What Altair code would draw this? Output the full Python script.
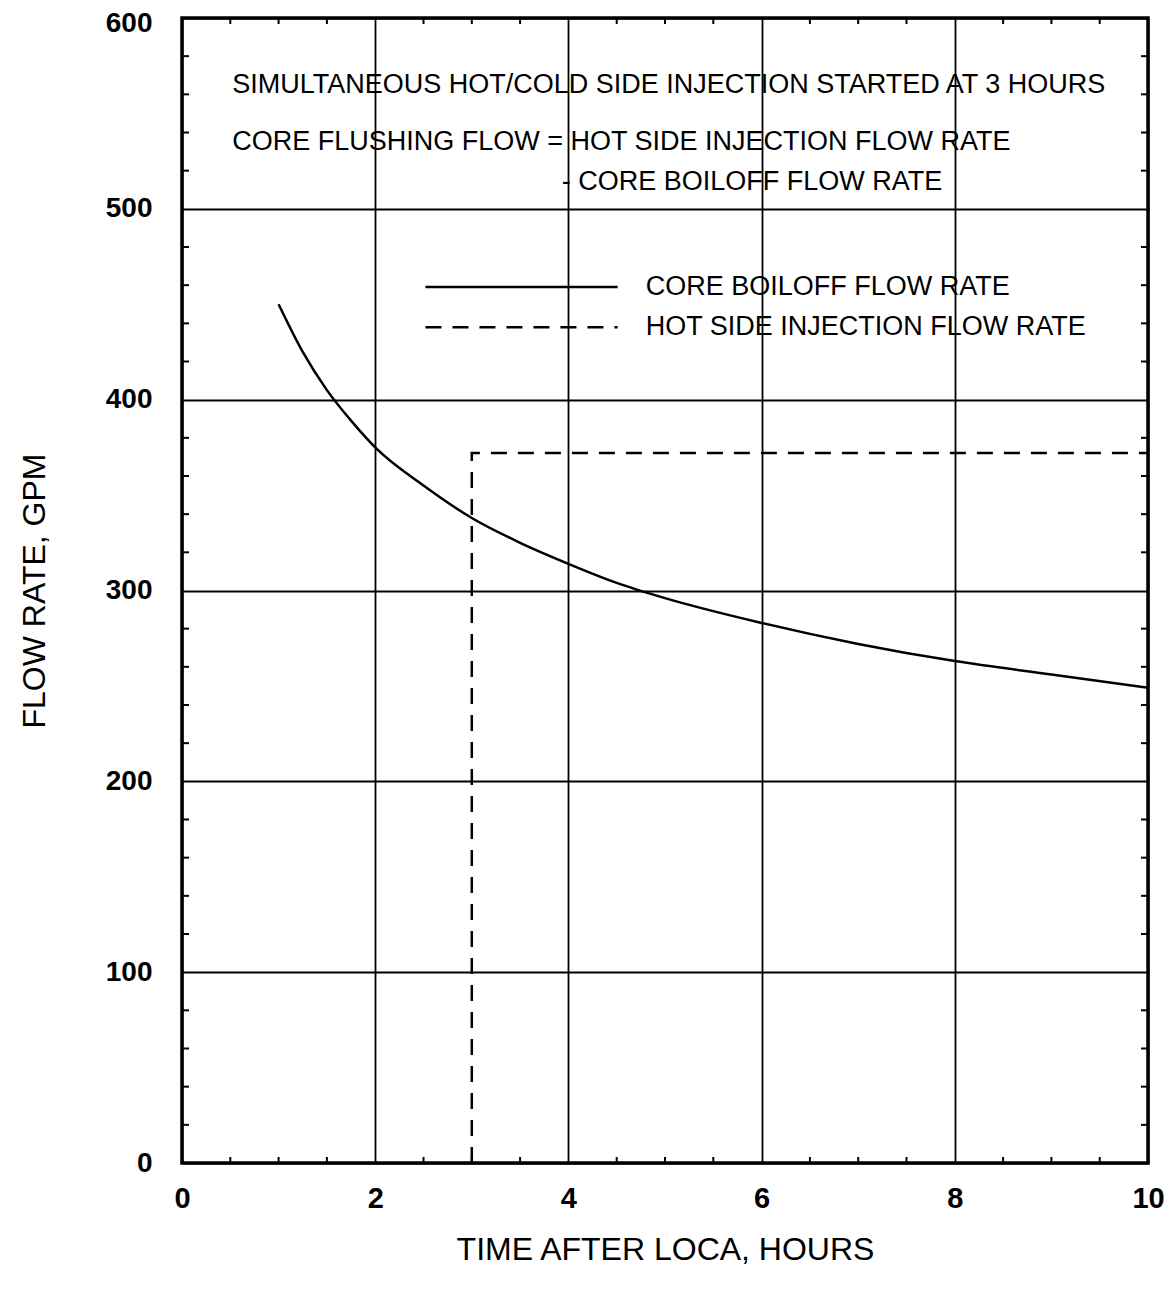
import altair as alt
import pandas as pd

# ---- data ----
time_h = [1.0, 1.25, 1.5, 1.75, 2.0, 2.5, 3.0, 3.5, 4.0, 4.5, 5.0, 6.0,
          7.0, 8.0, 9.0, 10.0]
boiloff_gpm = [450, 425, 405, 389, 375, 355, 338, 325, 314, 304, 296, 283,
               272, 263, 256, 249]

inj_time_h = [3.0, 3.0, 10.0]
inj_gpm = [0, 372, 372]

x_ticks = [0, 2, 4, 6, 8, 10]
y_ticks = [0, 100, 200, 300, 400, 500, 600]
x_minor = [0.5, 1, 1.5, 2.5, 3, 3.5, 4.5, 5, 5.5, 6.5, 7, 7.5, 8.5, 9, 9.5]
y_minor = [20, 40, 60, 80, 120, 140, 160, 180, 220, 240, 260, 280, 320, 340,
           360, 380, 420, 440, 460, 480, 520, 540, 560, 580]

note_text = ["SIMULTANEOUS HOT/COLD SIDE INJECTION STARTED AT 3 HOURS",
             "CORE FLUSHING FLOW = HOT SIDE INJECTION FLOW RATE",
             "- CORE BOILOFF FLOW RATE"]
note_x = [0.52, 0.52, 3.93]
note_y = [565, 535, 514]

legend_labels = ["CORE BOILOFF FLOW RATE", "HOT SIDE INJECTION FLOW RATE"]
legend_line_x = [2.52, 4.51]
legend_y = [459, 438]
legend_text_x = [4.80, 4.80]

# ---- tables ----
FONT = "Liberation Sans"
W, H = 966, 1145

curve_df = pd.DataFrame({"t": time_h, "q": boiloff_gpm})
inj_df = pd.DataFrame({"t": inj_time_h, "q": inj_gpm, "o": list(range(len(inj_gpm)))})
xminor_df = pd.DataFrame({"t": x_minor})
yminor_df = pd.DataFrame({"q": y_minor})
note_df = pd.DataFrame({"t": note_x, "q": note_y, "label": note_text})
leg_solid_df = pd.DataFrame({"t": [legend_line_x[0]], "t2": [legend_line_x[1]], "q": [legend_y[0]]})
leg_dash_df = pd.DataFrame({"t": [legend_line_x[0]], "t2": [legend_line_x[1]], "q": [legend_y[1]]})
leg_text_df = pd.DataFrame({"t": legend_text_x, "q": legend_y, "label": legend_labels})

xscale = alt.Scale(domain=[0, 10], nice=False, zero=False)
yscale = alt.Scale(domain=[0, 600], nice=False)

xaxis = alt.Axis(values=x_ticks, title="TIME AFTER LOCA, HOURS", grid=True,
                 gridColor="black", gridWidth=1.8, gridOpacity=1, ticks=False,
                 domain=False, labelFont=FONT, labelFontSize=29,
                 labelFontWeight="bold", labelColor="black", labelPadding=21,
                 labelFlush=False, format="d", titleFont=FONT, titleFontSize=32,
                 titleFontWeight="normal", titleColor="black", titlePadding=21)
yaxis = alt.Axis(values=y_ticks, title="FLOW RATE, GPM", grid=True,
                 gridColor="black", gridWidth=1.8, gridOpacity=1, ticks=False,
                 domain=False, labelFont=FONT, labelFontSize=28,
                 labelFontWeight="bold", labelColor="black", labelPadding=30,
                 labelOffset={"condition": {"test": "datum.value == 600", "value": 5},
                              "value": 0},
                 labelFlush=False, format="d", titleFont=FONT, titleFontSize=32,
                 titleFontWeight="normal", titleColor="black", titlePadding=54)


def X(field="t"):
    return alt.X(f"{field}:Q", scale=xscale, axis=xaxis)


def Y(field="q"):
    return alt.Y(f"{field}:Q", scale=yscale, axis=yaxis)


curve = alt.Chart(curve_df).mark_line(color="black", strokeWidth=2.5,
                                      interpolate="monotone").encode(x=X(), y=Y())

inj = alt.Chart(inj_df).mark_line(color="black", strokeWidth=2.5,
                                  strokeDash=[16, 11]).encode(
    x=X(), y=Y(), order="o:Q")

tick_bottom = alt.Chart(xminor_df).mark_rule(color="black", strokeWidth=2).encode(
    x=X(), y=alt.value(H), y2=alt.value(H - 6))
tick_top = alt.Chart(xminor_df).mark_rule(color="black", strokeWidth=2).encode(
    x=X(), y=alt.value(0), y2=alt.value(6))
tick_left = alt.Chart(yminor_df).mark_rule(color="black", strokeWidth=2).encode(
    y=Y(), x=alt.value(0), x2=alt.value(7))
tick_right = alt.Chart(yminor_df).mark_rule(color="black", strokeWidth=2).encode(
    y=Y(), x=alt.value(W), x2=alt.value(W - 7))

notes = alt.Chart(note_df).mark_text(align="left", baseline="middle", font=FONT,
                                     fontSize=27, color="black").encode(
    x=X(), y=Y(), text="label:N")

leg_solid = alt.Chart(leg_solid_df).mark_rule(color="black", strokeWidth=2.5).encode(
    x=X(), x2="t2:Q", y=Y())
leg_dash = alt.Chart(leg_dash_df).mark_rule(color="black", strokeWidth=2.5,
                                            strokeDash=[16, 11]).encode(
    x=X(), x2="t2:Q", y=Y())
leg_text = alt.Chart(leg_text_df).mark_text(align="left", baseline="middle", font=FONT,
                                            fontSize=27, color="black").encode(
    x=X(), y=Y(), text="label:N")

chart = alt.layer(
    tick_bottom, tick_top, tick_left, tick_right,
    curve, inj, notes, leg_solid, leg_dash, leg_text
).properties(
    width=W, height=H,
    padding={"left": 174, "top": 10, "right": 20, "bottom": 120},
    autosize=alt.AutoSizeParams(type="none"),
    background="white",
).configure_view(stroke="black", strokeWidth=3.5)

chart.save("out.html", embed_options={"renderer": "svg", "actions": False})
